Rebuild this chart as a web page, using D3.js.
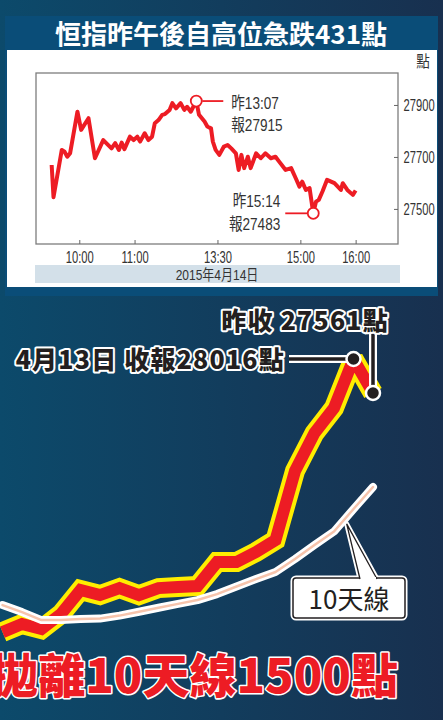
<!DOCTYPE html>
<html>
<head>
<meta charset="utf-8">
<script src="https://cdn.jsdelivr.net/npm/d3@7"></script>
<style>
  html, body { margin: 0; padding: 0; background: #123e5e; }
  svg { display: block; }
  .narrow { font-family: "Liberation Sans", Arial, "Noto Sans CJK TC", sans-serif; }
  .cjk { font-family: "Noto Sans CJK TC", "Noto Sans CJK SC", sans-serif; }
</style>
</head>
<body>
<script>
// intraday HSI, 14 Apr 2015
const intradayTimes = ["09:30","09:32","09:41","09:44","09:47","09:50","09:58","10:02","10:10","10:17",
  "10:26","10:35","10:39","10:43","10:46","10:49","10:55","10:59","11:03","11:06",
  "11:11","11:15","11:19","11:22","11:26","11:30","11:33","11:38","11:41","11:45",
  "11:50","11:54","11:57","13:01","13:07","13:10","13:16","13:19","13:23","13:25",
  "13:28","13:32","13:37","13:41","13:45","13:50","13:53","13:56","13:59","14:03",
  "14:06","14:12","14:17","14:22","14:28","14:33","14:37","14:44","14:50","14:55",
  "14:59","15:02","15:06","15:10","15:14","15:17","15:20","15:24","15:29","15:37",
  "15:44","15:46","15:51","15:57","16:00"];
const intradayValues = [27669,27545,27727,27720,27701,27714,27874,27804,27849,27695,
  27765,27733,27753,27727,27755,27730,27778,27765,27778,27759,
  27791,27765,27778,27830,27842,27862,27865,27881,27907,27887,
  27907,27881,27893,27874,27915,27862,27836,27817,27810,27759,
  27727,27708,27740,27746,27733,27714,27650,27708,27657,27701,
  27657,27714,27695,27714,27695,27701,27682,27650,27657,27618,
  27586,27605,27573,27580,27483,27528,27535,27567,27612,27599,
  27573,27599,27573,27554,27571];
const timeTicks = ["10:00","11:00","13:30","15:00","16:00"];
const valueTicks = [27500, 27700, 27900];
const highPoint = { time: "13:07", value: 27915 };
const lowPoint = { time: "15:14", value: 27483 };

// daily closes and 10-day line (last 20 sessions to 14 Apr)
const dailyClose = [24361,24469,24402,24603,24924,24857,24950,24857,24950,24964,
  24977,25298,25298,25432,25593,26517,27025,27360,28016,27561];
const tenDayAvg = [24723,24629,24522,24522,24535,24542,24582,24634,24687,24739,
  24790,24870,24971,25071,25165,25339,25526,25707,26008,26303];

const W = 443, H = 720;

// trading minutes since 09:30, lunch hour removed
function tradeMin(t) {
  const [h, m] = t.split(":").map(Number);
  let mins = h * 60 + m - (9 * 60 + 30);
  if (h >= 13) mins -= 60;
  return mins;
}

const svg = d3.select("body").append("svg")
  .attr("width", W)
  .attr("height", H);

const defs = svg.append("defs");
const grad = defs.append("linearGradient")
  .attr("id", "bg")
  .attr("x1", "0").attr("x2", "1").attr("y1", "0").attr("y2", "0");
grad.append("stop").attr("offset", "0").attr("stop-color", "#0c4a6b");
grad.append("stop").attr("offset", "1").attr("stop-color", "#18304f");

svg.append("rect")
  .attr("width", W).attr("height", H)
  .attr("fill", "url(#bg)");

// condensed text: Liberation Sans squeezed horizontally
function narrowText(parent, tx, ty, lines, size, sx, anchor, lineGap) {
  const t = parent.append("text")
    .attr("class", "narrow")
    .attr("transform", "translate(" + tx + "," + ty + ") scale(" + sx + ",1)")
    .attr("font-size", size)
    .attr("fill", "#333")
    .attr("text-anchor", anchor || "start");
  lines.forEach((s, i) => {
    t.append("tspan").attr("x", 0).attr("y", i * (lineGap || 0)).text(s);
  });
  return t;
}

// ---- top panel ----
svg.append("rect")
  .attr("x", 5).attr("y", 16).attr("width", 433).attr("height", 280)
  .attr("fill", "#0a4d78");
svg.append("rect")
  .attr("x", 7).attr("y", 50).attr("width", 430).attr("height", 237)
  .attr("fill", "#fff");

svg.append("text")
  .attr("class", "cjk")
  .attr("x", 221).attr("y", 44)
  .attr("text-anchor", "middle")
  .attr("font-size", 26)
  .attr("font-weight", 700)
  .attr("fill", "#fff")
  .text("恒指昨午後自高位急跌431點");

const margin = { left: 36, right: 398, top: 73, bottom: 244 };

const x = d3.scaleLinear()
  .domain([-17, 376])
  .range([margin.left, margin.right]);
const y = d3.scaleLinear()
  .domain([27365, 28023])
  .range([margin.bottom, margin.top]);

svg.append("rect")
  .attr("x", margin.left).attr("y", margin.top)
  .attr("width", margin.right - margin.left)
  .attr("height", margin.bottom - margin.top)
  .attr("fill", "none")
  .attr("stroke", "#7d7d7d")
  .attr("stroke-width", 1.3);

const xAxis = d3.axisBottom(x)
  .tickValues(timeTicks.map(tradeMin))
  .tickFormat((d, i) => timeTicks[i])
  .tickSizeInner(-4)
  .tickSizeOuter(0)
  .tickPadding(8);
const gx = svg.append("g")
  .attr("class", "narrow")
  .attr("transform", "translate(0," + margin.bottom + ")")
  .call(xAxis);
gx.select(".domain").remove();
gx.selectAll("line").attr("stroke", "#666");
gx.selectAll("text")
  .attr("font-size", 16)
  .attr("fill", "#333")
  .attr("transform", "scale(0.7,1)");

const yAxis = d3.axisRight(y)
  .tickValues(valueTicks)
  .tickFormat(d3.format("d"))
  .tickSizeInner(-4)
  .tickSizeOuter(0)
  .tickPadding(8);
const gy = svg.append("g")
  .attr("class", "narrow")
  .attr("transform", "translate(" + margin.right + ",0)")
  .call(yAxis);
gy.select(".domain").remove();
gy.selectAll("line").attr("stroke", "#666");
gy.selectAll("text")
  .attr("font-size", 16)
  .attr("fill", "#333")
  .attr("transform", "scale(0.7,1)");

narrowText(svg, 423, 67, ["點"], 16, 0.85, "middle");

const intraday = intradayTimes.map((t, i) => ({ m: tradeMin(t), v: intradayValues[i] }));

svg.append("path")
  .datum(intraday)
  .attr("fill", "none")
  .attr("stroke", "#ed1c24")
  .attr("stroke-width", 4)
  .attr("stroke-linejoin", "round")
  .attr("d", d3.line().x(d => x(d.m)).y(d => y(d.v)));

// high / low callouts
const hx = x(tradeMin(highPoint.time)), hy = y(highPoint.value);
svg.append("line")
  .attr("x1", hx + 6).attr("x2", hx + 27)
  .attr("y1", hy).attr("y2", hy)
  .attr("stroke", "#ed1c24").attr("stroke-width", 1.8);
svg.append("circle")
  .attr("cx", hx).attr("cy", hy).attr("r", 5.5)
  .attr("fill", "#fff").attr("stroke", "#ed1c24").attr("stroke-width", 1.8);
narrowText(svg, hx + 35, hy + 8, ["昨" + highPoint.time, "報" + highPoint.value], 17, 0.8, "start", 22);

const lx = x(tradeMin(lowPoint.time)), ly = y(lowPoint.value);
svg.append("line")
  .attr("x1", lx - 6).attr("x2", lx - 28)
  .attr("y1", ly).attr("y2", ly)
  .attr("stroke", "#ed1c24").attr("stroke-width", 1.8);
svg.append("circle")
  .attr("cx", lx).attr("cy", ly).attr("r", 5.5)
  .attr("fill", "#fff").attr("stroke", "#ed1c24").attr("stroke-width", 1.8);
narrowText(svg, lx - 33, ly - 6, ["昨" + lowPoint.time, "報" + lowPoint.value], 17, 0.8, "end", 23);

svg.append("rect")
  .attr("x", 35).attr("y", 265).attr("width", 365).attr("height", 18)
  .attr("fill", "#d3e0e9");
narrowText(svg, 217, 280, ["2015年4月14日"], 15, 0.8, "middle");

// ---- lower daily chart ----
const xd = d3.scaleLinear().domain([0, dailyClose.length - 1]).range([2.5, 373]);
const yd = d3.scaleLinear().domain([27561, 28016]).range([393, 359]);

const dayLine = d3.line().x((d, i) => xd(i)).y(d => yd(d));

svg.append("path")
  .datum(dailyClose)
  .attr("fill", "none")
  .attr("stroke", "#ffed00")
  .attr("stroke-width", 20)
  .attr("stroke-linejoin", "miter")
  .attr("stroke-miterlimit", 1.6)
  .attr("d", dayLine);
svg.append("path")
  .datum(dailyClose)
  .attr("fill", "none")
  .attr("stroke", "#ed1c24")
  .attr("stroke-width", 12)
  .attr("stroke-linejoin", "miter")
  .attr("stroke-miterlimit", 1.6)
  .attr("d", dayLine);

svg.append("path")
  .datum(tenDayAvg)
  .attr("fill", "none")
  .attr("stroke", "#fff")
  .attr("stroke-width", 8)
  .attr("stroke-linecap", "round")
  .attr("stroke-linejoin", "round")
  .attr("d", dayLine);
svg.append("path")
  .datum(tenDayAvg)
  .attr("fill", "none")
  .attr("stroke", "#f7c4ac")
  .attr("stroke-width", 2.5)
  .attr("stroke-linecap", "round")
  .attr("stroke-linejoin", "round")
  .attr("d", dayLine);

// callout for 10-day line
const n = tenDayAvg.length;
const apexIdx = 17.65;
const apexX = xd(apexIdx);
const apexY = yd(tenDayAvg[17] + (tenDayAvg[18] - tenDayAvg[17]) * (apexIdx - 17)) + 7;
const tri = [[apexX, apexY], [360, 579], [377, 579]];
svg.append("path")
  .attr("d", "M" + tri.join("L") + "Z")
  .attr("fill", "#fff").attr("stroke", "#fff").attr("stroke-width", 5)
  .attr("stroke-linejoin", "round");
svg.append("rect")
  .attr("x", 293).attr("y", 578).attr("width", 112).attr("height", 40)
  .attr("rx", 3)
  .attr("fill", "#fff").attr("stroke", "#fff").attr("stroke-width", 5);
svg.append("rect")
  .attr("x", 293).attr("y", 578).attr("width", 112).attr("height", 40)
  .attr("rx", 3)
  .attr("fill", "#fff").attr("stroke", "#231f20").attr("stroke-width", 1.5);
svg.append("path")
  .attr("d", "M" + tri[1] + "L" + tri[0] + "L" + tri[2])
  .attr("fill", "#fff").attr("stroke", "#231f20").attr("stroke-width", 1.3);
svg.append("line")
  .attr("x1", 361).attr("x2", 376).attr("y1", 578).attr("y2", 578)
  .attr("stroke", "#fff").attr("stroke-width", 2);
svg.append("text")
  .attr("class", "cjk")
  .attr("x", 349).attr("y", 609)
  .attr("text-anchor", "middle")
  .attr("font-size", 26)
  .attr("fill", "#231f20")
  .text("10天線");

// close markers
const p13 = [xd(n - 2), yd(dailyClose[n - 2])];
const p14 = [xd(n - 1), yd(dailyClose[n - 1])];

function outlinedLine(x1, y1, x2, y2) {
  svg.append("line").attr("x1", x1).attr("y1", y1).attr("x2", x2).attr("y2", y2)
    .attr("stroke", "#fff").attr("stroke-width", 8);
  svg.append("line").attr("x1", x1).attr("y1", y1).attr("x2", x2).attr("y2", y2)
    .attr("stroke", "#231f20").attr("stroke-width", 3.5);
}
outlinedLine(289, p13[1], p13[0], p13[1]);
outlinedLine(p14[0], 334, p14[0], p14[1]);

[p13, p14].forEach(p => {
  svg.append("circle")
    .attr("cx", p[0]).attr("cy", p[1]).attr("r", 7)
    .attr("fill", "#231f20").attr("stroke", "#fff").attr("stroke-width", 2.5);
});

function outlinedText(txt, tx, ty, size, anchor) {
  svg.append("text")
    .attr("class", "cjk")
    .attr("x", tx).attr("y", ty)
    .attr("text-anchor", anchor)
    .attr("font-size", size)
    .attr("font-weight", 900)
    .attr("letter-spacing", 1.2)
    .attr("fill", "#231f20")
    .attr("stroke", "#fff")
    .attr("stroke-width", 4)
    .attr("stroke-linejoin", "round")
    .attr("paint-order", "stroke")
    .text(txt);
}
outlinedText("昨收 " + dailyClose[n - 1] + "點", 389, 330, 25, "end");
outlinedText("4月13日 收報" + dailyClose[n - 2] + "點", 285, 369, 25, "end");

svg.append("text")
  .attr("class", "cjk")
  .attr("x", 398).attr("y", 693)
  .attr("text-anchor", "end")
  .attr("font-size", 47)
  .attr("font-weight", 900)
  .attr("fill", "#ed1c24")
  .attr("stroke", "#fff")
  .attr("stroke-width", 3)
  .attr("stroke-linejoin", "round")
  .attr("paint-order", "stroke")
  .text("拋離10天線1500點");
</script>
</body>
</html>
